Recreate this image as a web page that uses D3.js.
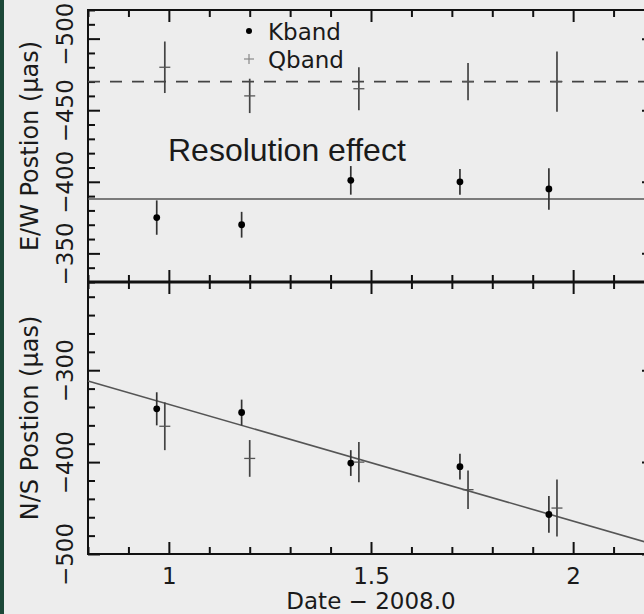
<!DOCTYPE html>
<html><head><meta charset="utf-8">
<script src="https://cdn.jsdelivr.net/npm/d3@7/dist/d3.min.js"></script>
<style>
html,body{margin:0;padding:0;background:#ededed;}
svg{display:block;}
text{font-family:"DejaVu Sans",sans-serif;fill:#1a1a1a;}
</style></head>
<body>
<svg id="c" width="644" height="614"></svg>
<script>
// ---- data ----
const datesK = [0.97, 1.18, 1.45, 1.72, 1.94];
const datesQ = [0.99, 1.20, 1.47, 1.74, 1.96];
const ewK = [-375, -370, -401, -400, -395];
const ewKerr = [12, 9, 10, 9, 14.5];
const ewQ = [-480, -460, -465, -470, -470];
const ewQerr = [18, 12, 15, 13, 21];
const nsK = [-342, -346, -401, -405, -457];
const nsKerr = [18, 14, 14, 14, 20];
const nsQ = [-361, -396, -400, -430, -450];
const nsQerr = [26, 20, 22, 21, 31];
const ewKmean = -388;
const ewQmean = -470;
const nsFitT = [0.8, 2.2];
const nsFitV = [-311.7, -489.6];
const xMajor = [1, 1.5, 2];
const ewMajor = [-500, -450, -400, -350];
const nsMajor = [-500, -400, -300];
const legendLabels = ["Kband", "Qband"];
const annotation = "Resolution effect";

// ---- layout ----
const L = 88, R = 654, T = 10, M = 282, B = 554;
const svg = d3.select("#c");
svg.append("rect").attr("x",0).attr("y",0).attr("width",4).attr("height",614).attr("fill","#1c4838");

const x = d3.scaleLinear().domain([0.8, 2.2]).range([L, R]);
const yT = d3.scaleLinear().domain([-520, -330]).range([T, M]);
const yB = d3.scaleLinear().domain([-204, -500]).range([M, B]);

const xMinor = d3.range(8, 23).map(d => d / 10).filter(d => !xMajor.some(m => Math.abs(m - d) < 1e-9));
const ewMinor = d3.range(-520, -329, 10).filter(d => !ewMajor.includes(d));
const nsMinor = d3.range(-500, -203, 20).filter(d => !nsMajor.includes(d));

function styleAxis(g){
  g.select(".domain").remove();
  g.selectAll(".tick line").attr("stroke","#111").attr("stroke-width",2);
}
function xAxes(yPos, dir, withLabels){
  const mk = dir > 0 ? d3.axisTop : d3.axisBottom;
  const g1 = svg.append("g").attr("transform",`translate(0,${yPos})`)
    .call(mk(x).tickValues(xMinor).tickSize(-7).tickFormat(""));
  styleAxis(g1);
  const g2 = svg.append("g").attr("transform",`translate(0,${yPos})`)
    .call(mk(x).tickValues(xMajor).tickSize(-12).tickFormat(withLabels ? d3.format("~g") : ""));
  styleAxis(g2);
  if (withLabels) {
    g2.selectAll("text").attr("y", 30).attr("dy", 0).attr("font-size", 23).attr("text-anchor","middle");
  }
}
function yAxes(scale, major, minor, withLabels, topShift){
  [[L, d3.axisLeft],[R, d3.axisRight]].forEach(([xp, mk], i) => {
    const g1 = svg.append("g").attr("transform",`translate(${xp},0)`)
      .call(mk(scale).tickValues(minor).tickSize(-7).tickFormat(""));
    styleAxis(g1);
    const lab = withLabels && i === 0;
    const g2 = svg.append("g").attr("transform",`translate(${xp},0)`)
      .call(mk(scale).tickValues(major).tickSize(-12).tickFormat(lab ? d3.format("d") : ""));
    styleAxis(g2);
    if (lab) {
      g2.selectAll("text")
        .attr("transform","rotate(-90)")
        .attr("text-anchor","middle")
        .attr("font-size", 23)
        .attr("dy", 0)
        .attr("y", -15)
        .attr("x", d => (d === topShift ? 5 : 0));
    }
  });
}

xAxes(T, +1, false);
xAxes(M, -1, false);
yAxes(yT, ewMajor, ewMinor, true, -500);
xAxes(M, +1, false);
xAxes(B, -1, true);
yAxes(yB, nsMajor, nsMinor, true, null);

// frame
svg.append("line").attr("x1",L).attr("x2",L).attr("y1",T-1).attr("y2",B+1).attr("stroke","#111").attr("stroke-width",2);
svg.append("line").attr("x1",L-1).attr("x2",R).attr("y1",T).attr("y2",T).attr("stroke","#111").attr("stroke-width",2);
svg.append("line").attr("x1",L-1).attr("x2",R).attr("y1",B).attr("y2",B).attr("stroke","#111").attr("stroke-width",2);
svg.append("line").attr("x1",L).attr("x2",R).attr("y1",M).attr("y2",M).attr("stroke","#111").attr("stroke-width",3);
svg.append("line").attr("x1",R).attr("x2",R).attr("y1",T).attr("y2",B).attr("stroke","#111").attr("stroke-width",2);

// reference lines top panel
svg.append("line").attr("x1",L).attr("x2",R).attr("y1",yT(ewQmean)).attr("y2",yT(ewQmean))
  .attr("stroke","#444").attr("stroke-width",1.6).attr("stroke-dasharray","12,10");
svg.append("line").attr("x1",L).attr("x2",R).attr("y1",yT(ewKmean)).attr("y2",yT(ewKmean))
  .attr("stroke","#555").attr("stroke-width",1.6);

// fit line bottom panel
const fit = nsFitT.map((t,i) => [t, nsFitV[i]]);
svg.append("path").datum(fit)
  .attr("d", d3.line().x(d => x(d[0])).y(d => yB(d[1])))
  .attr("stroke","#555").attr("stroke-width",1.6).attr("fill","none");

function drawK(dates, vals, errs, scale){
  const g = svg.append("g");
  dates.forEach((t,i) => {
    g.append("line").attr("x1",x(t)).attr("x2",x(t))
      .attr("y1",scale(vals[i]-errs[i])).attr("y2",scale(vals[i]+errs[i]))
      .attr("stroke","#333").attr("stroke-width",1.7);
    g.append("circle").attr("cx",x(t)).attr("cy",scale(vals[i])).attr("r",3.4).attr("fill","#000");
  });
}
function drawQ(dates, vals, errs, scale){
  const g = svg.append("g");
  dates.forEach((t,i) => {
    g.append("line").attr("x1",x(t)).attr("x2",x(t))
      .attr("y1",scale(vals[i]-errs[i])).attr("y2",scale(vals[i]+errs[i]))
      .attr("stroke","#444").attr("stroke-width",1.7);
    g.append("line").attr("x1",x(t)-5.5).attr("x2",x(t)+5.5)
      .attr("y1",scale(vals[i])).attr("y2",scale(vals[i]))
      .attr("stroke","#555").attr("stroke-width",1.3);
  });
}
drawK(datesK, ewK, ewKerr, yT);
drawQ(datesQ, ewQ, ewQerr, yT);
drawK(datesK, nsK, nsKerr, yB);
drawQ(datesQ, nsQ, nsQerr, yB);

// legend
svg.append("circle").attr("cx",249).attr("cy",31).attr("r",3).attr("fill","#000");
svg.append("line").attr("x1",244).attr("x2",254).attr("y1",59).attr("y2",59).attr("stroke","#888").attr("stroke-width",1.2);
svg.append("line").attr("x1",249).attr("x2",249).attr("y1",54).attr("y2",64).attr("stroke","#888").attr("stroke-width",1.2);
svg.append("text").attr("x",268).attr("y",40).attr("font-size",23).text(legendLabels[0]);
svg.append("text").attr("x",268).attr("y",68).attr("font-size",23).text(legendLabels[1]);

// axis titles
svg.append("text").attr("transform",`translate(38,${(T+M)/2}) rotate(-90)`).attr("text-anchor","middle")
  .attr("font-size",24).text("E/W Postion (μas)");
svg.append("text").attr("transform",`translate(38,${(M+B)/2}) rotate(-90)`).attr("text-anchor","middle")
  .attr("font-size",24).text("N/S Postion (μas)");
svg.append("text").attr("x",(L+R)/2).attr("y",609).attr("text-anchor","middle")
  .attr("font-size",23).text("Date − 2008.0");

// annotation
svg.append("text").attr("x",168).attr("y",161)
  .style("font-family","'Liberation Sans',Arial,sans-serif").attr("font-size",32).attr("fill","#000")
  .text(annotation);
</script>
</body></html>
